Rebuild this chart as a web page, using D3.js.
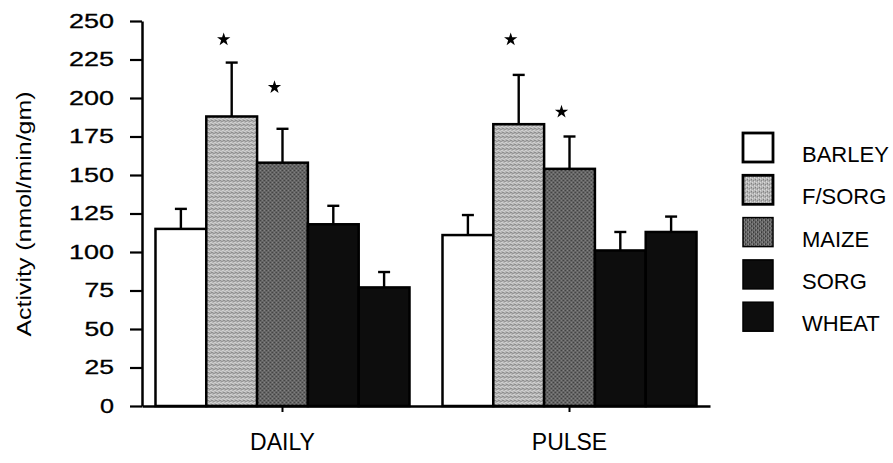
<!DOCTYPE html>
<html>
<head>
<meta charset="utf-8">
<script src="https://cdn.jsdelivr.net/npm/d3@7"></script>
<style>
  body { margin: 0; background: #fff; }
  svg { display: block; font-family: "Liberation Sans", Arial, Helvetica, sans-serif; }
</style>
</head>
<body>
<div id="chart"></div>
<script>
// groups, series and values
var groups = ["DAILY", "PULSE"];
var series = ["BARLEY", "F/SORG", "MAIZE", "SORG", "WHEAT"];
var means = [
  [115, 188, 158, 118, 77],   // DAILY
  [111, 183, 154, 101, 113]   // PULSE
];
var errs = [
  [13, 35, 22, 12, 10],
  [13, 32, 21, 12, 10]
];
// value at which the significance star sits (null = no star)
var stars = [
  [null, 238, 207, null, null],
  [null, 238, 191, null, null]
];
var yTicks = [0, 25, 50, 75, 100, 125, 150, 175, 200, 225, 250];

var W = 893, H = 463;
var fills = ["#ffffff", "url(#lightDots)", "url(#darkDots)", "#0d0d0d", "#0d0d0d"];

var svg = d3.select("#chart").append("svg")
  .attr("width", W)
  .attr("height", H);

//stippled fills like the printed greys
var defs = svg.append("defs");
var light = defs.append("pattern").attr("id", "lightDots")
  .attr("width", 4).attr("height", 4).attr("patternUnits", "userSpaceOnUse");
light.append("rect").attr("width", 4).attr("height", 4).attr("fill", "#b4b4b4");
light.append("rect").attr("x", 0).attr("y", 0).attr("width", 1).attr("height", 1).attr("fill", "#6a6a6a");
light.append("rect").attr("x", 2).attr("y", 1).attr("width", 1).attr("height", 1).attr("fill", "#7a7a7a");
light.append("rect").attr("x", 1).attr("y", 3).attr("width", 1).attr("height", 1).attr("fill", "#e6e6e6");
light.append("rect").attr("x", 3).attr("y", 2).attr("width", 1).attr("height", 1).attr("fill", "#ececec");

var dark = defs.append("pattern").attr("id", "darkDots")
  .attr("width", 4).attr("height", 4).attr("patternUnits", "userSpaceOnUse");
dark.append("rect").attr("width", 4).attr("height", 4).attr("fill", "#666");
dark.append("rect").attr("x", 0).attr("y", 0).attr("width", 1).attr("height", 1).attr("fill", "#222");
dark.append("rect").attr("x", 2).attr("y", 2).attr("width", 1).attr("height", 1).attr("fill", "#1c1c1c");
dark.append("rect").attr("x", 1).attr("y", 2).attr("width", 1).attr("height", 1).attr("fill", "#a0a0a0");
dark.append("rect").attr("x", 3).attr("y", 0).attr("width", 1).attr("height", 1).attr("fill", "#949494");

//scales
var x0 = d3.scaleBand().domain(groups).range([142, 710])
  .paddingInner(0.115).paddingOuter(0.047);
var x1 = d3.scaleBand().domain(series).range([0, x0.bandwidth()]);
var y = d3.scaleLinear().domain([0, 250]).range([406, 21]);

//bars
var rows = groups.map(function(g, gi) {
  return series.map(function(s, si) {
    return { group: g, series: s, si: si, v: means[gi][si], e: errs[gi][si], star: stars[gi][si] };
  });
});

var gGroup = svg.selectAll("g.group")
  .data(rows).enter().append("g")
  .attr("class", "group")
  .attr("transform", function(d, i) { return "translate(" + x0(groups[i]) + ",0)"; });

gGroup.selectAll("rect.bar")
  .data(function(d) { return d; }).enter().append("rect")
  .attr("class", "bar")
  .attr("x", function(d) { return x1(d.series); })
  .attr("y", function(d) { return y(d.v); })
  .attr("width", x1.bandwidth())
  .attr("height", function(d) { return y(0) - y(d.v); })
  .attr("fill", function(d) { return fills[d.si]; })
  .attr("stroke", "#000")
  .attr("stroke-width", 2.5);

//error bars (upper only)
var eb = gGroup.selectAll("g.err")
  .data(function(d) { return d; }).enter().append("g")
  .attr("class", "err")
  .attr("stroke", "#000")
  .attr("stroke-width", 2.4);
eb.append("line")
  .attr("x1", function(d) { return x1(d.series) + x1.bandwidth() / 2; })
  .attr("x2", function(d) { return x1(d.series) + x1.bandwidth() / 2; })
  .attr("y1", function(d) { return y(d.v); })
  .attr("y2", function(d) { return y(d.v + d.e); });
eb.append("line")
  .attr("x1", function(d) { return x1(d.series) + x1.bandwidth() / 2 - 6; })
  .attr("x2", function(d) { return x1(d.series) + x1.bandwidth() / 2 + 6; })
  .attr("y1", function(d) { return y(d.v + d.e); })
  .attr("y2", function(d) { return y(d.v + d.e); });

//significance stars
gGroup.selectAll("path.star")
  .data(function(d) { return d.filter(function(r) { return r.star != null; }); })
  .enter().append("path")
  .attr("class", "star")
  .attr("d", d3.symbol().type(d3.symbolStar).size(55))
  .attr("transform", function(d) {
    return "translate(" + (x1(d.series) + x1.bandwidth() / 2 - 8) + "," + y(d.star) + ")";
  })
  .attr("fill", "#000");

//y axis
var yAxis = svg.append("g")
  .attr("transform", "translate(142,0)")
  .call(d3.axisLeft(y).tickValues(yTicks).tickSize(12).tickSizeOuter(0).tickPadding(16));
yAxis.select(".domain").attr("stroke-width", 2.5);
yAxis.selectAll(".tick line").attr("stroke-width", 2.2);
yAxis.selectAll(".tick text")
  .attr("font-size", 20)
  .attr("fill", "#000")
  .attr("stroke", "#000")
  .attr("stroke-width", 0.3)
  .attr("textLength", function(d) { return String(d).length * 15.5 - 1.5; })
  .attr("lengthAdjust", "spacingAndGlyphs");

//x axis
var xAxis = svg.append("g")
  .attr("transform", "translate(0," + y(0) + ")")
  .call(d3.axisBottom(x0).tickSize(6).tickSizeOuter(0).tickPadding(22));
xAxis.select(".domain").attr("stroke-width", 2.5);
xAxis.selectAll(".tick line").attr("stroke-width", 2);
xAxis.selectAll(".tick text")
  .attr("font-size", 23)
  .attr("fill", "#000");

//y title
svg.append("text")
  .attr("transform", "translate(31,214) rotate(-90)")
  .attr("text-anchor", "middle")
  .attr("font-size", 20)
  .attr("textLength", 245)
  .attr("lengthAdjust", "spacingAndGlyphs")
  .text("Activity (nmol/min/gm)");

//legend
var legend = svg.selectAll("g.legend")
  .data(series).enter().append("g")
  .attr("class", "legend")
  .attr("transform", function(d, i) { return "translate(743," + (133 + i * 42.3) + ")"; });
legend.append("rect")
  .attr("width", 30)
  .attr("height", 29)
  .attr("fill", function(d, i) { return fills[i]; })
  .attr("stroke", "#000")
  .attr("stroke-width", function(d, i) { return i < 2 ? 2.8 : 1.5; });
legend.append("text")
  .attr("x", 59)
  .attr("y", 29)
  .attr("font-size", 22)
  .text(function(d) { return d; });
</script>
</body>
</html>
